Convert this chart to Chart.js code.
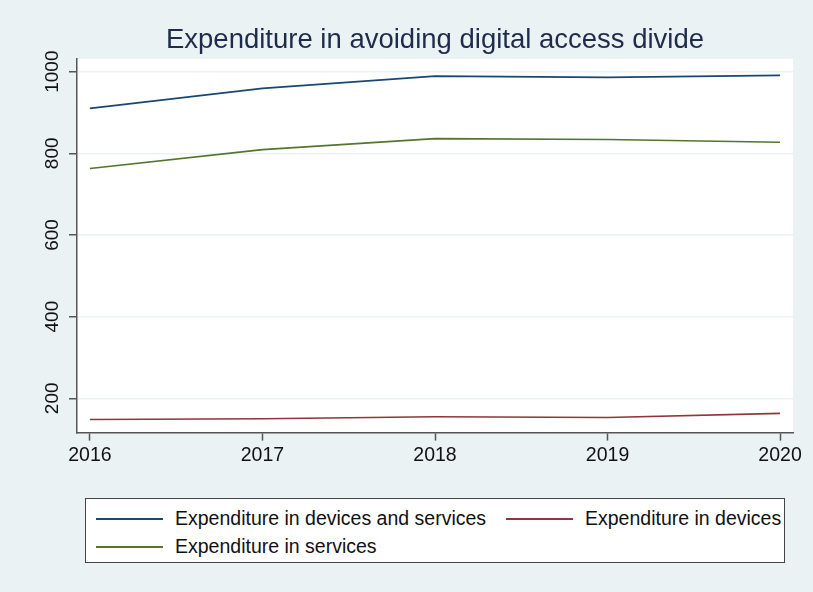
<!DOCTYPE html>
<html>
<head>
<meta charset="utf-8">
<script src="https://cdn.jsdelivr.net/npm/chart.js@4.4.1/dist/chart.umd.min.js"></script>
<style>
  body { margin: 0; background: #eaf2f3; }
  #wrap { position: relative; width: 813px; height: 592px; background: #eaf2f3; font-family: "Liberation Sans", Arial, sans-serif; }
  #legend { position: absolute; left: 85px; top: 498px; width: 698px; height: 63px; background: #fff; border: 1px solid #444; }
  .item { position: absolute; font-size: 19.5px; color: #111; white-space: nowrap; }
  .item .swatch { position: absolute; left: 0; top: 11px; width: 67px; height: 2px; }
  .item span { position: absolute; left: 79px; top: 0; }
</style>
</head>
<body>
<div id="wrap">
  <canvas id="chart" width="813" height="592"></canvas>
  <div id="legend"></div>
</div>
<script>
// data
const years = [2016, 2017, 2018, 2019, 2020];
const devicesAndServices = [910, 959, 989, 986, 991];
const devices = [148, 150, 155, 153, 163];
const services = [763, 809, 836, 834, 827];
const yTicks = [200, 400, 600, 800, 1000];

const seriesLabels = ['Expenditure in devices and services', 'Expenditure in devices', 'Expenditure in services'];
const seriesColors = ['#1a476f', '#90353b', '#55752f'];
const seriesData = [devicesAndServices, devices, services];

const datasets = seriesData.map((vals, i) => ({
    label: seriesLabels[i],
    data: vals.map((v, j) => ({ x: years[j], y: v })),
    borderColor: seriesColors[i],
    borderWidth: 1.6,
    pointRadius: 0,
    fill: false,
    tension: 0
}));

// white plot region
const plotBg = {
    id: 'plotBg',
    beforeDraw(chart) {
        const { ctx, chartArea: a } = chart;
        ctx.save();
        ctx.fillStyle = '#ffffff';
        ctx.fillRect(a.left, a.top, a.right - a.left, a.bottom - a.top);
        ctx.restore();
    }
};

const ctx = document.getElementById('chart').getContext('2d');
const chart = new Chart(ctx, {
    type: 'line',
    data: { datasets },
    plugins: [plotBg],
    options: {
        responsive: false,
        animation: false,
        layout: { padding: { left: 0, right: 20, top: 7, bottom: 122 } },
        plugins: {
            legend: { display: false },
            tooltip: { enabled: false },
            title: {
                display: true,
                text: 'Expenditure in avoiding digital access divide',
                fullSize: false,
                color: '#1f2b4a',
                font: { family: 'Liberation Sans', size: 27.5, weight: 'normal' },
                padding: { top: 17, bottom: 2 }
            }
        },
        scales: {
            x: {
                type: 'linear',
                min: 2015.925,
                max: 2020.075,
                afterBuildTicks: axis => { axis.ticks = years.map(v => ({ value: v })); },
                ticks: {
                    color: '#111',
                    font: { family: 'Liberation Sans', size: 19.5 },
                    padding: 3,
                    maxRotation: 0,
                    callback: v => String(v)
                },
                grid: { drawOnChartArea: false, tickLength: 8, tickColor: '#555', tickWidth: 1.5 },
                border: { color: '#555', width: 1.5 }
            },
            y: {
                min: 116,
                max: 1031,
                afterBuildTicks: axis => { axis.ticks = yTicks.map(v => ({ value: v })); },
                afterFit: axis => { axis.width = 77; },
                ticks: {
                    color: '#111',
                    font: { family: 'Liberation Sans', size: 19 },
                    minRotation: 90,
                    maxRotation: 90,
                    crossAlign: 'center',
                    padding: -5,
                    callback: v => String(v)
                },
                grid: { color: '#eaf2f3', lineWidth: 1.5, tickLength: 8, tickColor: '#555', tickWidth: 1.5 },
                border: { color: '#555', width: 1.5 }
            }
        }
    }
});

// legend box below the plot
const legend = document.getElementById('legend');
const positions = [[10, 8], [420, 8], [10, 36]];
seriesLabels.forEach((label, i) => {
    const item = document.createElement('div');
    item.className = 'item';
    item.style.left = positions[i][0] + 'px';
    item.style.top = positions[i][1] + 'px';
    const sw = document.createElement('div');
    sw.className = 'swatch';
    sw.style.background = seriesColors[i];
    const txt = document.createElement('span');
    txt.textContent = label;
    item.appendChild(sw);
    item.appendChild(txt);
    legend.appendChild(item);
});
</script>
</body>
</html>
